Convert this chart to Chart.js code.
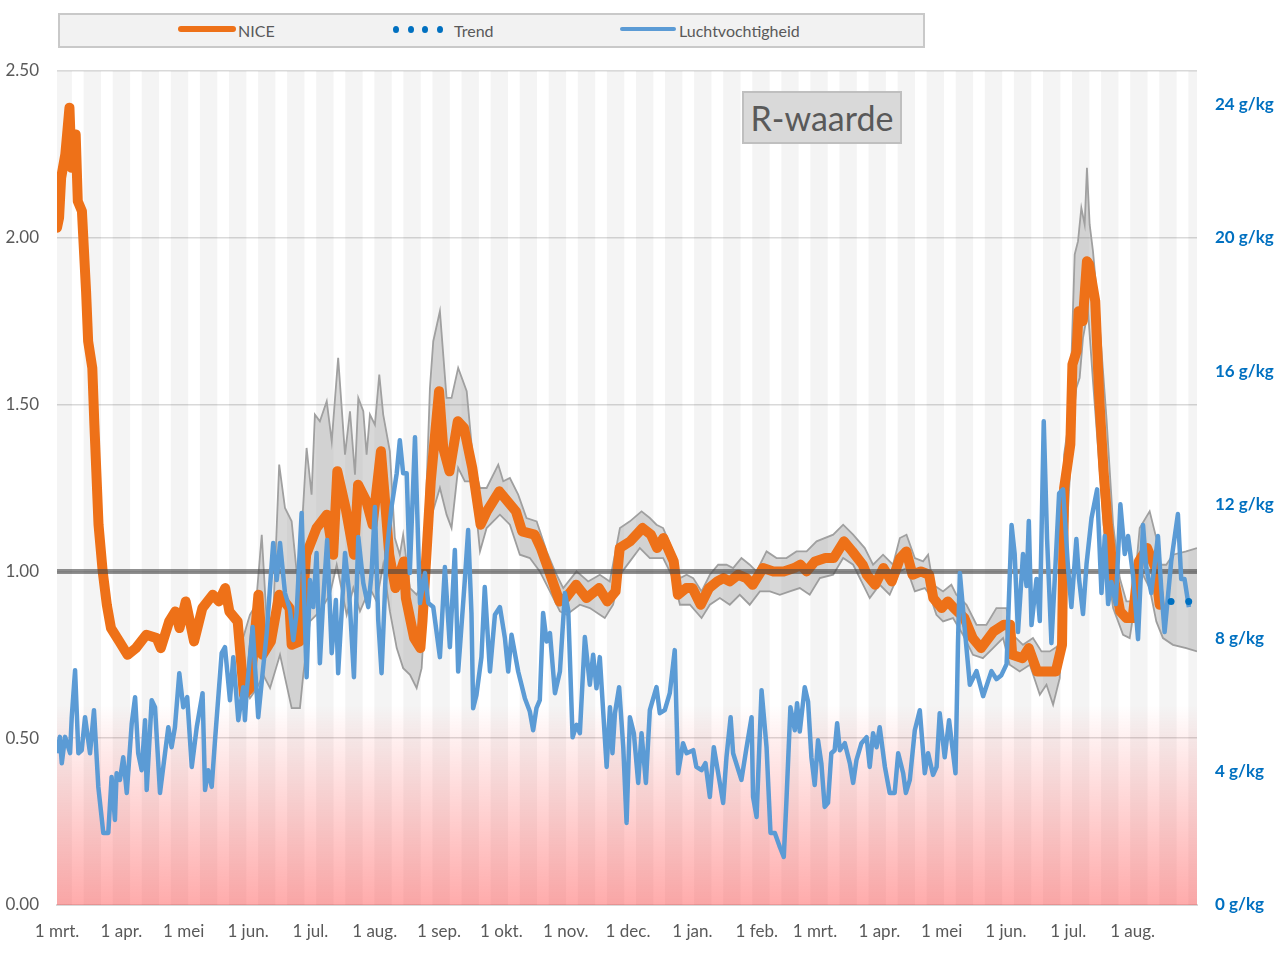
<!DOCTYPE html>
<html lang="nl">
<head>
<meta charset="utf-8">
<title>R-waarde en luchtvochtigheid</title>
<script src="https://cdn.jsdelivr.net/npm/chart.js@4.4.1/dist/chart.umd.min.js"></script>
<style>
  html, body { margin: 0; padding: 0; background: #fff; }
  #wrap { position: relative; width: 1277px; height: 956px; font-family: Lato, "Open Sans", sans-serif; }
  #wrap canvas { position: absolute; left: 0; top: 0; }
  #legenda { position: absolute; left: 58px; top: 13px; width: 863px; height: 31px;
             background: #f2f2f2; border: 2px solid #c9c9c9; }
  .tekst { position: absolute; top: 0; line-height: 31px; font-size: 16px; color: #595959; }
  .lijn { position: absolute; }
  .stip { position: absolute; width: 6px; height: 7px; border-radius: 50%; background: #0070c0; top: 11px; }
  #titel { position: absolute; left: 742px; top: 91px; width: 156px; height: 49px;
           background: #d9d9d9; border: 2px solid #bfbfbf; color: #595959;
           font-size: 34px; line-height: 49px; text-align: center; }
</style>
</head>
<body>
<div id="wrap">
  <canvas id="grafiek" width="1277" height="956"></canvas>
  <div id="legenda">
    <div class="lijn" style="left:118px;top:11px;width:58px;height:6px;border-radius:3px;background:#ee7118"></div>
    <div class="tekst" style="left:178px">NICE</div>
    <div class="stip" style="left:333px"></div>
    <div class="stip" style="left:348px"></div>
    <div class="stip" style="left:362px"></div>
    <div class="stip" style="left:377px"></div>
    <div class="tekst" style="left:394px">Trend</div>
    <div class="lijn" style="left:560px;top:12px;width:56px;height:4px;border-radius:2px;background:#5b9bd5"></div>
    <div class="tekst" style="left:619px">Luchtvochtigheid</div>
  </div>
  <div id="titel">R-waarde</div>
</div>
<script>
// --- Data (dag 0 = 1 maart 2020) ---
const maandDag = [0, 31, 61, 92, 122, 153, 184, 214, 245, 275, 306, 337, 365, 396, 426, 457, 487, 518];
const maandLabels = ['1 mrt.', '1 apr.', '1 mei', '1 jun.', '1 jul.', '1 aug.', '1 sep.', '1 okt.', '1 nov.',
  '1 dec.', '1 jan.', '1 feb.', '1 mrt.', '1 apr.', '1 mei', '1 jun.', '1 jul.', '1 aug.'];
const laatsteDag = 549;
const rTicks = [0, 0.5, 1, 1.5, 2, 2.5];
const vochtTicks = [0, 4, 8, 12, 16, 20, 24];

const niceDag = [
  0, 1, 2, 4, 6, 7, 9, 10, 12, 14,
  15, 17, 18, 20, 22, 24, 26, 30, 34, 38,
  43, 48, 50, 54, 57, 59, 62, 66, 70, 75,
  78, 81, 83, 87, 90, 93, 97, 99, 103, 107,
  112, 113, 117, 120, 125, 130, 133, 135, 139, 143,
  145, 149, 152, 156, 158, 160, 163, 167, 168, 172,
  175, 176, 180, 184, 186, 189, 193, 196, 200, 204,
  207, 213, 217, 221, 224, 230, 233, 237, 242, 245,
  250, 255, 261, 265, 269, 271, 276, 282, 286, 289,
  292, 297, 299, 303, 306, 310, 314, 318, 321, 324,
  328, 332, 335, 340, 345, 350, 355, 358, 361, 365,
  370, 374, 379, 383, 388, 390, 394, 398, 402, 406,
  409, 412, 416, 420, 422, 426, 429, 432, 437, 441,
  445, 451, 456, 459, 460, 465, 468, 472, 477, 481,
  484, 485, 488, 489, 491, 492, 494, 496, 497, 500,
  502, 504, 506, 509, 512, 515, 518, 521, 525, 529,
  531];
const niceR = [
  2.03, 2.06, 2.18, 2.25, 2.39, 2.21, 2.31, 2.11, 2.08, 1.84,
  1.69, 1.61, 1.44, 1.14, 1.00, 0.90, 0.83, 0.79, 0.75, 0.77,
  0.81, 0.80, 0.77, 0.85, 0.88, 0.83, 0.91, 0.79, 0.89, 0.93,
  0.91, 0.95, 0.88, 0.85, 0.63, 0.65, 0.93, 0.75, 0.79, 0.93,
  0.89, 0.78, 0.79, 1.05, 1.13, 1.17, 1.05, 1.30, 1.19, 1.05,
  1.26, 1.21, 1.14, 1.36, 1.21, 1.05, 0.95, 1.03, 0.92, 0.80,
  0.77, 0.85, 1.27, 1.54, 1.37, 1.30, 1.45, 1.43, 1.31, 1.14,
  1.18, 1.24, 1.21, 1.18, 1.12, 1.11, 1.07, 1.00, 0.91, 0.92,
  0.96, 0.92, 0.95, 0.91, 0.94, 1.07, 1.09, 1.13, 1.11, 1.07,
  1.10, 1.03, 0.93, 0.95, 0.95, 0.90, 0.95, 0.97, 0.98, 0.97,
  0.99, 0.98, 0.96, 1.01, 1.00, 1.00, 1.01, 1.02, 1.00, 1.03,
  1.04, 1.04, 1.09, 1.06, 1.02, 0.99, 0.96, 1.01, 0.97, 1.04,
  1.06, 0.99, 1.00, 0.99, 0.92, 0.89, 0.91, 0.89, 0.86, 0.80,
  0.77, 0.82, 0.84, 0.84, 0.75, 0.74, 0.77, 0.70, 0.70, 0.70,
  0.78, 1.25, 1.38, 1.62, 1.66, 1.78, 1.75, 1.93, 1.92, 1.81,
  1.51, 1.30, 1.14, 0.98, 0.88, 0.86, 0.86, 1.03, 1.07, 1.01,
  0.90];

// onzekerheidsband rond NICE
const bovenDag = [
  89.6, 92.9, 95.8, 98.6, 101, 104, 107, 109.8, 113, 116.2,
  120.2, 122.6, 124.2, 126.6, 129.9, 132.3, 135.4, 138.7, 141.1, 143.5,
  145.1, 147.5, 149.1, 150.7, 153.1, 155.2, 157.1, 160.3, 162.7, 165.1,
  166.7, 170, 173.2, 176.4, 179.6, 181.2, 184.4, 187.6, 190, 193.2,
  197.3, 200.4, 203.7, 206.9, 212.5, 214.9, 218.1, 222.1, 226.1, 231,
  235.8, 239.8, 243.8, 250.2, 255.8, 261.4, 266.2, 271.1, 275.9, 281.5,
  285.5, 288.7, 291.9, 296.7, 300, 303.2, 306.4, 310.4, 314.4, 318.4,
  322.4, 325.6, 329.6, 333.6, 336.9, 341.7, 346.5, 351.3, 356.1, 361,
  365.8, 373.8, 378.6, 383.4, 389, 393, 397.8, 402.6, 405.9, 409.1,
  413.1, 417.1, 419.5, 421.9, 426.7, 430.7, 433.1, 438, 442.8, 447.6,
  452.4, 457.2, 460.3, 465.2, 470, 474.1, 478.1, 482.9, 485, 487.7,
  490.1, 491.7, 493.3, 494.9, 496, 497.3, 498.9, 502.2, 505.4, 508.6,
  511.8, 515, 518.2, 521.4, 526.2, 529.4, 531, 534.2, 537.4, 543.8,
  549];
const bovenR = [
  0.80, 0.87, 0.90, 1.11, 0.85, 0.85, 1.32, 1.19, 1.15, 0.95,
  1.37, 1.23, 1.47, 1.45, 1.51, 1.39, 1.64, 1.35, 1.48, 1.29,
  1.52, 1.48, 1.35, 1.47, 1.44, 1.59, 1.47, 1.36, 1.10, 1.05,
  1.11, 0.95, 0.93, 0.97, 1.55, 1.69, 1.78, 1.52, 1.52, 1.61,
  1.54, 1.33, 1.25, 1.25, 1.32, 1.27, 1.28, 1.23, 1.16, 1.15,
  1.06, 1.00, 0.95, 1.00, 0.97, 0.99, 0.97, 1.13, 1.15, 1.18,
  1.16, 1.14, 1.13, 1.06, 0.98, 0.99, 0.98, 0.94, 0.99, 1.02,
  1.02, 1.01, 1.04, 1.02, 1.00, 1.06, 1.04, 1.04, 1.06, 1.06,
  1.09, 1.11, 1.14, 1.11, 1.07, 1.02, 1.05, 1.02, 1.10, 1.11,
  1.04, 1.03, 1.05, 0.96, 0.94, 0.96, 0.93, 0.90, 0.84, 0.84,
  0.89, 0.89, 0.81, 0.78, 0.80, 0.76, 0.76, 0.78, 1.35, 1.47,
  1.95, 1.99, 2.09, 2.04, 2.21, 2.04, 1.96, 1.73, 1.46, 1.14,
  0.98, 0.91, 0.91, 1.13, 1.18, 1.10, 1.02, 1.02, 1.05, 1.06,
  1.07];
const onderDag = [
  89.6, 92.9, 96.3, 99.3, 102.6, 107.4, 113, 117, 118.6, 121.8,
  126.6, 131.4, 134.7, 139.5, 142.7, 145.9, 150.7, 153.9, 157.1, 160.3,
  163.6, 166.7, 170, 173.2, 175.6, 179.6, 184.4, 187.6, 190, 193.2,
  196.4, 200.4, 203.7, 206.9, 213.3, 218.1, 222.9, 227.7, 232.5, 237.4,
  242.2, 245.4, 251.8, 256.6, 263.8, 267.8, 271.1, 275.9, 280.7, 285.5,
  291.9, 296.7, 300, 304.8, 310.4, 314.4, 319.2, 324, 328.8, 333.6,
  338.5, 343.3, 348.1, 352.9, 357.7, 362.5, 367.4, 373.8, 378.6, 383.4,
  387.4, 391.4, 396.2, 401, 405.9, 409.1, 413.1, 417.9, 420.3, 423.5,
  426.7, 431.5, 436.3, 441.1, 445.9, 450.8, 455.6, 458.8, 463.6, 468.5,
  473.3, 476.5, 479.7, 482.9, 486.1, 489.3, 490.9, 492.5, 494.1, 496.5,
  498.9, 502.2, 505.4, 508.6, 513.4, 516.6, 519.8, 523, 526.2, 529.4,
  532.6, 537.4, 543.8, 549];
const onderR = [
  0.66, 0.62, 0.65, 0.69, 0.65, 0.75, 0.59, 0.59, 0.69, 0.85,
  0.88, 0.93, 1.02, 0.87, 0.95, 0.88, 0.95, 0.91, 1.02, 0.88,
  0.77, 0.71, 0.69, 0.65, 0.71, 1.15, 1.25, 1.17, 1.13, 1.31,
  1.27, 1.27, 1.06, 1.13, 1.17, 1.14, 1.05, 1.04, 1.00, 0.94,
  0.88, 0.87, 0.90, 0.89, 0.86, 0.90, 0.99, 1.03, 1.07, 1.04,
  1.04, 0.98, 0.90, 0.90, 0.86, 0.90, 0.92, 0.90, 0.93, 0.90,
  0.94, 0.94, 0.93, 0.94, 0.95, 0.93, 0.98, 0.99, 1.04, 1.02,
  0.97, 0.92, 0.96, 0.93, 1.00, 1.01, 0.94, 0.95, 0.93, 0.87,
  0.85, 0.86, 0.81, 0.75, 0.74, 0.77, 0.80, 0.72, 0.70, 0.72,
  0.63, 0.66, 0.60, 0.68, 1.10, 1.45, 1.55, 1.58, 1.70, 1.78,
  1.57, 1.30, 1.03, 0.89, 0.81, 0.80, 0.93, 0.99, 0.95, 0.85,
  0.80, 0.78, 0.77, 0.76];

const trendDag = [536.5, 545];
const trendR = [0.91, 0.91];

const referentieDag = [0, laatsteDag];
const referentieR = [1, 1];

// rode zone onder in de grafiek
const zoneDag = [0, laatsteDag];
const zoneR = [0.6, 0.6];

// luchtvochtigheid in g/kg
const vochtDag = [
  0, 1.4, 2.3, 3.9, 6.3, 7.1, 8.7, 10.3, 11.9, 13.5,
  15.9, 17.8, 19.9, 22.3, 24.7, 26.3, 27.9, 28.7, 30.3, 31.9,
  33.6, 36, 37.6, 39.1, 40.8, 42.4, 43.2, 45.6, 47.2, 49.6,
  53.6, 55.2, 56.8, 58.9, 60.8, 62.7, 64.9, 67.3, 70.1, 71.3,
  72.8, 74.5, 76.1, 79.3, 80.9, 83.3, 84.9, 87.3, 89.7, 90.5,
  91.3, 94.2, 96.9, 99.3, 101, 104.1, 105.8, 107.4, 109.8, 112.2,
  113.8, 115.4, 117.8, 120.2, 121.8, 123.4, 125, 126.6, 128.2, 130.1,
  132.3, 134.3, 135.4, 138.7, 140.7, 143, 145.1, 147.5, 149.9, 151.5,
  153.1, 154.7, 156.3, 158.7, 161.1, 163.6, 165.1, 166.7, 168.4, 169.9,
  172.4, 174.8, 177.2, 178.8, 181.2, 184.4, 186.8, 189.2, 191.6, 193.2,
  196.4, 198, 199.6, 200.4, 202, 204.4, 206, 208.5, 210.9, 213.3,
  215.7, 217.3, 218.9, 222.1, 225.3, 227.7, 229.3, 230.9, 232.5, 234.1,
  235.8, 237.4, 239.8, 242.2, 244.6, 246.2, 248.3, 250.2, 251.8, 254.2,
  256.6, 258.2, 259.8, 261.4, 264.7, 266.3, 267.5, 268.7, 270.7, 272.7,
  274.3, 275.9, 277.8, 279.9, 281.5, 283.6, 285.5, 288.7, 290.3, 292.7,
  295.1, 297.5, 299.1, 301.5, 303.2, 306.4, 307.9, 310.4, 312.3, 314.4,
  316.3, 318.4, 320.8, 322.4, 324.4, 325.6, 329.6, 332.1, 334.5, 335.2,
  336.9, 339.3, 341.7, 343.6, 345.7, 348.1, 350, 351.3, 353.2, 355.3,
  356.4, 357.7, 360.1, 361.7, 363.3, 364.9, 366.5, 368.1, 369.7, 371.3,
  372.9, 374.5, 375.7, 377, 379.4, 381.8, 383.4, 385, 387.4, 389.9,
  391.4, 393, 394.7, 396.2, 398.7, 401, 403.4, 405.1, 407.5, 408.8,
  410.7, 413.1, 415.5, 417.9, 419.5, 421.9, 423.6, 425.1, 427.5, 429.6,
  432.7, 433.9, 434.8, 437.2, 439.6, 442.8, 446, 450, 452.4, 454.8,
  457.3, 459.7, 461.2, 462.8, 465.2, 466.9, 468, 469.3, 471.7, 473.3,
  475.2, 476.8, 478.9, 480.5, 482.6, 484.5, 486.9, 488.5, 490.9, 492.2,
  494.1, 495.8, 498.2, 500.9, 503, 504.6, 506.2, 507.8, 509.9, 512.1,
  514.2, 515.8, 518.2, 520.6, 523, 524.6, 527, 530.2, 531.8, 533.4,
  536.6, 539.8, 541.4, 543, 545.1];
const vochtGkg = [
  4.55, 5.04, 4.25, 5.04, 4.55, 5.63, 7.04, 4.55, 4.64, 5.63,
  4.55, 5.84, 3.54, 2.16, 2.16, 3.84, 2.55, 3.95, 3.75, 4.43,
  3.36, 5.45, 6.23, 4.55, 4.04, 5.54, 3.45, 6.14, 5.93, 3.36,
  5.33, 4.73, 5.33, 6.95, 5.93, 6.23, 4.14, 5.33, 6.35, 3.45,
  4.04, 3.54, 4.94, 7.55, 7.73, 6.14, 7.43, 5.54, 6.53, 5.54,
  6.35, 8.33, 5.63, 7.13, 8.15, 10.85, 9.74, 10.85, 9.35, 8.84,
  7.94, 8.75, 11.75, 6.83, 9.74, 8.93, 10.55, 7.25, 9.14, 10.94,
  7.55, 9.14, 6.95, 10.55, 9.35, 6.83, 11.03, 9.65, 8.93, 9.95,
  11.93, 8.54, 6.95, 10.55, 11.93, 12.94, 13.93, 12.94, 12.94, 9.95,
  14.02, 9.05, 9.95, 9.05, 8.93, 7.43, 10.13, 7.73, 10.64, 7.0,
  9.74, 11.24, 8.75, 5.9, 6.3, 7.43, 9.53, 7.0, 8.7, 8.93,
  8.0, 7.0, 8.1, 7.0, 6.2, 5.8, 5.24, 5.9, 6.14, 8.75,
  7.9, 8.15, 6.35, 7.0, 9.35, 8.84, 5.03, 5.4, 5.15, 8.03,
  6.6, 7.5, 6.5, 7.43, 4.14, 5.93, 4.55, 5.75, 6.53, 4.73,
  2.46, 5.63, 5.15, 3.66, 5.15, 3.66, 5.84, 6.53, 5.75, 5.84,
  6.35, 7.64, 3.95, 4.85, 4.55, 4.64, 4.14, 4.04, 4.25, 3.24,
  4.73, 3.95, 3.06, 4.43, 5.63, 4.55, 3.75, 4.73, 5.63, 3.24,
  2.64, 6.44, 4.73, 2.16, 2.16, 1.74, 1.44, 3.15, 5.93, 5.24,
  6.05, 5.2, 6.53, 6.1, 4.43, 3.6, 4.94, 4.25, 2.94, 3.06,
  4.55, 4.64, 5.45, 4.64, 4.85, 4.25, 3.66, 4.34, 4.85, 5.03,
  4.14, 5.15, 4.73, 5.33, 4.14, 3.36, 3.36, 4.55, 3.95, 3.36,
  3.75, 5.24, 5.84, 3.95, 4.55, 3.90, 4.14, 5.75, 4.43, 5.54,
  3.95, 7.85, 9.95, 8.24, 6.6, 7.01, 6.26, 7.01, 6.77, 6.89,
  7.22, 11.39, 10.52, 8.18, 10.52, 9.56, 11.51, 8.39, 9.77, 8.51,
  14.50, 10.97, 7.85, 9.77, 12.34, 12.46, 10.10, 8.93, 10.97, 9.77,
  8.72, 10.22, 11.60, 12.46, 9.35, 11.06, 9.02, 9.68, 9.02, 12.01,
  10.52, 11.06, 9.89, 7.97, 11.39, 10.10, 9.35, 11.06, 9.47, 8.18,
  10.31, 11.72, 9.77, 9.77, 8.93];

// --- Helpers ---
const punten = (xs, ys) => xs.map((x, i) => ({ x: x, y: ys[i] }));

// grijze achtergrondstrepen, om de twee weken
const strepen = [];
for (let d = 3; d <= laatsteDag + 7; d += 14) strepen.push({ x: d, y: 1 });

function roodVerloop(context) {
  const chart = context.chart;
  if (!chart.chartArea) return 'rgba(255,80,80,0.3)';
  const top = chart.scales.y.getPixelForValue(0.6);
  const bodem = chart.scales.y.getPixelForValue(0);
  const g = chart.ctx.createLinearGradient(0, top, 0, bodem);
  g.addColorStop(0, 'rgba(255,80,80,0)');
  g.addColorStop(0.15, 'rgba(255,80,80,0.08)');
  g.addColorStop(1, 'rgba(255,80,80,0.48)');
  return g;
}

// --- Chart ---
Chart.defaults.font.family = 'Lato, "Open Sans", sans-serif';
Chart.defaults.color = '#595959';

const grijs = '#595959';
const ctx = document.getElementById('grafiek').getContext('2d');
const chart = new Chart(ctx, {
  type: 'line',
  data: {
    datasets: [
      { label: 'Trend', data: punten(trendDag, trendR), showLine: false,
        pointRadius: 3.5, pointBackgroundColor: '#0070c0', pointBorderWidth: 0, order: 0 },
      { label: 'Luchtvochtigheid', data: punten(vochtDag, vochtGkg), yAxisID: 'y2',
        borderColor: '#5b9bd5', borderWidth: 4.5, pointRadius: 0, borderJoinStyle: 'round', order: 1 },
      { label: 'R = 1', data: punten(referentieDag, referentieR),
        borderColor: 'rgba(70,70,70,0.6)', borderWidth: 5, pointRadius: 0, order: 2 },
      { label: 'NICE', data: punten(niceDag, niceR), borderColor: '#ee7118', borderWidth: 10,
        pointRadius: 0, borderJoinStyle: 'round', borderCapStyle: 'round', order: 3 },
      { label: 'bovengrens', data: punten(bovenDag, bovenR), borderColor: '#a0a0a0', borderWidth: 1.8,
        backgroundColor: 'rgba(150,150,150,0.37)', fill: '+1', pointRadius: 0, order: 4 },
      { label: 'ondergrens', data: punten(onderDag, onderR), borderColor: '#a0a0a0', borderWidth: 1.8,
        fill: false, pointRadius: 0, order: 5 },
      { label: 'risicozone', data: punten(zoneDag, zoneR), borderWidth: 0, pointRadius: 0,
        fill: 'origin', backgroundColor: roodVerloop, order: 6 },
      { type: 'bar', label: 'strepen', data: strepen, yAxisID: 'yStrepen',
        backgroundColor: 'rgba(0,0,0,0.045)', barPercentage: 0.6, categoryPercentage: 1, order: 7 }
    ]
  },
  options: {
    responsive: false,
    animation: false,
    layout: { padding: { top: 71, left: 0, right: 0, bottom: 0 } },
    plugins: { legend: { display: false }, tooltip: { enabled: false } },
    scales: {
      x: {
        type: 'linear', min: 0, max: laatsteDag, offset: false,
        grid: { display: false, drawTicks: false },
        border: { color: '#d9d9d9', width: 2 },
        afterBuildTicks: s => { s.ticks = maandDag.map(v => ({ value: v })); },
        ticks: { autoSkip: false, maxRotation: 0, padding: 16, color: grijs, font: { size: 17 },
                 callback: v => maandLabels[maandDag.indexOf(v)] },
        afterFit: s => { s.height = 51; }
      },
      y: {
        position: 'left', min: 0, max: 2.5,
        afterBuildTicks: s => { s.ticks = rTicks.map(v => ({ value: v })); },
        ticks: { padding: 18, color: grijs, font: { size: 17 }, callback: v => v.toFixed(2) },
        grid: { color: '#d9d9d9', lineWidth: 1.5, drawTicks: false },
        border: { display: false },
        afterFit: s => { s.width = 57; }
      },
      y2: {
        position: 'right', min: 0, max: 25,
        afterBuildTicks: s => { s.ticks = vochtTicks.map(v => ({ value: v })); },
        ticks: { padding: 18, color: '#0070c0', font: { size: 17, weight: 'bold' }, callback: v => v + ' g/kg' },
        grid: { display: false, drawTicks: false },
        border: { display: false },
        afterFit: s => { s.width = 80; }
      },
      yStrepen: { display: false, min: 0, max: 1 }
    }
  }
});
</script>
</body>
</html>
